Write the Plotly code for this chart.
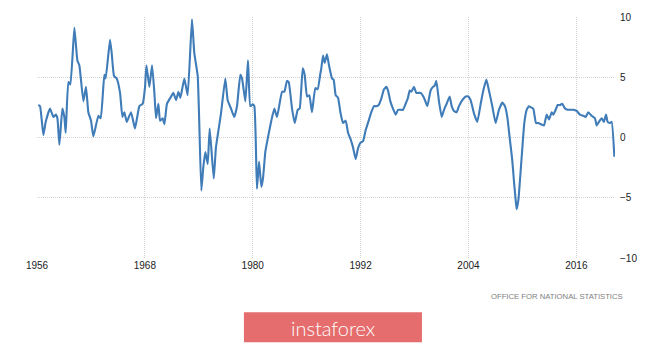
import plotly.graph_objects as go

# UK GDP annual growth rate (%)
years = [
    1956.15, 1956.34, 1956.71, 1956.97, 1957.45, 1957.82, 1958.08, 1958.27, 1958.49, 1958.82,
    1959.04, 1959.19, 1959.49, 1959.71, 1960.16, 1960.49, 1960.71, 1961.16, 1961.45, 1961.71,
    1962.01, 1962.27, 1962.83, 1963.09, 1963.49, 1963.64, 1964.12, 1964.31, 1964.57, 1964.87,
    1965.24, 1965.50, 1965.72, 1965.98, 1966.46, 1966.90, 1967.39, 1967.76, 1968.02, 1968.17,
    1968.50, 1968.80, 1969.06, 1969.24, 1969.50, 1969.69, 1969.98, 1970.17, 1970.46, 1970.84,
    1971.17, 1971.47, 1971.73, 1971.95, 1972.39, 1972.76, 1973.24, 1973.50, 1973.88, 1974.28,
    1974.51, 1974.73, 1974.99, 1975.21, 1975.66, 1975.91, 1976.47, 1976.95, 1977.21, 1977.58,
    1977.95, 1978.25, 1978.62, 1978.81, 1979.18, 1979.47, 1979.73, 1979.99, 1980.18, 1980.47,
    1980.70, 1980.96, 1981.14, 1981.40, 1981.77, 1982.07, 1982.40, 1982.70, 1983.26, 1983.52,
    1983.81, 1984.00, 1984.37, 1984.67, 1985.00, 1985.22, 1985.56, 1985.78, 1986.04, 1986.30,
    1986.59, 1986.96, 1987.22, 1987.52, 1987.63, 1987.82, 1988.00, 1988.26, 1988.48, 1988.82,
    1989.00, 1989.23, 1989.49, 1989.75, 1990.04, 1990.34, 1990.60, 1990.86, 1991.15, 1991.45,
    1991.71, 1991.97, 1992.27, 1992.56, 1992.90, 1993.19, 1993.49, 1993.75, 1994.01, 1994.31,
    1994.60, 1994.86, 1995.05, 1995.31, 1995.60, 1995.90, 1996.16, 1996.42, 1996.71, 1997.01,
    1997.27, 1997.46, 1997.64, 1997.94, 1998.20, 1998.68, 1999.05, 1999.42, 1999.79, 2000.05,
    2000.24, 2000.42, 2000.72, 2001.02, 2001.28, 2001.57, 2001.91, 2002.13, 2002.39, 2002.69,
    2002.94, 2003.32, 2003.69, 2003.98, 2004.24, 2004.61, 2004.98, 2005.36, 2005.65, 2005.99,
    2006.28, 2006.65, 2007.02, 2007.39, 2007.77, 2008.06, 2008.32, 2008.58, 2008.86, 2009.08,
    2009.25, 2009.36, 2009.55, 2009.92, 2010.21, 2010.47, 2010.73, 2010.95, 2011.21, 2011.51,
    2011.77, 2012.07, 2012.40, 2012.70, 2012.96, 2013.26, 2013.44, 2013.70, 2013.92, 2014.18,
    2014.44, 2014.74, 2015.03, 2015.37, 2015.66, 2016.03, 2016.40, 2016.78, 2017.03, 2017.33,
    2017.70, 2018.07, 2018.26, 2018.52, 2018.81, 2019.07, 2019.30, 2019.48, 2019.74, 2019.93,
    2020.23,
]
growth = [
    2.7, 2.6, 0.2, 1.3, 2.4, 1.7, 1.9, 1.6, -0.6, 2.4,
    1.7, 0.4, 4.6, 4.4, 9.1, 6.4, 6.0, 3.0, 4.2, 2.1,
    1.4, 0.1, 1.8, 1.6, 5.2, 4.9, 8.1, 7.0, 5.1, 4.9,
    3.7, 1.7, 2.1, 1.3, 2.1, 0.75, 2.6, 2.8, 4.2, 6.0,
    4.2, 6.0, 3.7, 1.6, 2.8, 1.4, 1.6, 1.1, 2.8, 3.3,
    3.7, 3.1, 3.8, 3.3, 4.9, 3.5, 9.8, 7.0, 5.1, -4.4,
    -2.4, -1.2, -2.2, 0.75, -3.4, -0.8, 2.0, 4.9, 3.1, 2.4,
    1.7, 2.6, 5.2, 4.9, 3.0, 6.4, 2.6, 2.75, 2.6, -4.25,
    -2.0, -4.1, -3.4, -1.2, 0.3, 1.4, 2.4, 1.7, 3.8, 3.8,
    4.7, 4.6, 2.4, 1.2, 2.3, 2.4, 5.75, 5.2, 3.4, 3.5,
    2.1, 4.1, 4.0, 5.3, 5.75, 6.8, 6.2, 6.9, 6.0, 4.9,
    4.8, 3.5, 3.3, 2.1, 1.2, 1.4, 0.4, -0.1, -0.8, -1.8,
    -0.9, -0.45, -0.3, 0.6, 1.4, 2.1, 2.6, 2.6, 2.7, 3.25,
    4.0, 4.2, 3.9, 3.0, 2.4, 1.9, 2.3, 2.3, 2.3, 2.8,
    3.3, 3.9, 3.8, 4.2, 3.7, 3.7, 3.3, 2.6, 3.9, 4.2,
    4.3, 4.7, 3.0, 1.7, 2.3, 2.8, 3.4, 2.6, 2.2, 2.1,
    2.6, 3.1, 3.4, 3.4, 3.1, 2.0, 1.3, 2.8, 3.9, 4.8,
    3.9, 2.6, 1.2, 2.3, 2.9, 2.6, 1.7, 0.0, -1.8, -3.8,
    -5.2, -5.95, -5.2, -1.6, 1.2, 2.3, 2.6, 2.5, 2.4, 1.2,
    1.2, 1.1, 1.0, 1.9, 1.5, 2.1, 1.9, 2.3, 2.7, 2.7,
    2.8, 2.4, 2.3, 2.3, 2.3, 2.2, 1.9, 1.8, 1.7, 2.1,
    1.8, 1.6, 1.0, 1.3, 1.6, 1.3, 1.9, 1.3, 1.2, 1.3,
    -1.6,
]
x_ticks = [1956, 1968, 1980, 1992, 2004, 2016]
y_ticks = [-10, -5, 0, 5, 10]
source_text = "OFFICE FOR NATIONAL STATISTICS"
brand_text = "instaforex"

fig = go.Figure()
fig.add_trace(go.Scatter(
    x=years, y=growth, mode="lines",
    line=dict(color="#3f7cb8", width=2.1, shape="spline", smoothing=0.4),
    hoverinfo="skip", showlegend=False,
))

grid = "#d2d2d2"
fig.update_layout(
    width=665, height=343,
    margin=dict(l=37, r=50, t=17, b=85),
    paper_bgcolor="white", plot_bgcolor="white",
    font=dict(family="Arial, Liberation Sans, sans-serif", size=10, color="#333333"),
    xaxis=dict(
        range=[1956, 2020.3], tickvals=x_ticks, ticktext=[str(v) for v in x_ticks],
        showgrid=True, gridcolor=grid, griddash="1px,1px", gridwidth=1,
        zeroline=False, showline=False, ticks="", tickfont=dict(size=10, color="#222222"),
    ),
    yaxis=dict(
        range=[-10, 10], tickvals=y_ticks, side="right",
        showgrid=True, gridcolor=grid, griddash="1px,1px", gridwidth=1,
        zeroline=False, showline=False, ticks="", ticklabelstandoff=4,
        tickfont=dict(size=10, color="#222222"),
    ),
)

fig.add_annotation(
    xref="paper", yref="paper", x=1.017, y=-0.158, xanchor="right", yanchor="middle",
    text=source_text, showarrow=False,
    font=dict(size=7.7, color="#808080", family="Arial, Liberation Sans, sans-serif"),
)
fig.add_shape(
    type="rect", xref="paper", yref="paper",
    x0=0.358, x1=0.666, y0=-0.35, y1=-0.225,
    fillcolor="#e56d6d", line=dict(width=0), layer="above",
)
fig.add_annotation(
    xref="paper", yref="paper", x=0.512, y=-0.29, xanchor="center", yanchor="middle",
    text=brand_text, showarrow=False,
    font=dict(size=20, color="white", family="Lato, Open Sans, sans-serif", weight=300),
)

fig.write_html("out.html")
